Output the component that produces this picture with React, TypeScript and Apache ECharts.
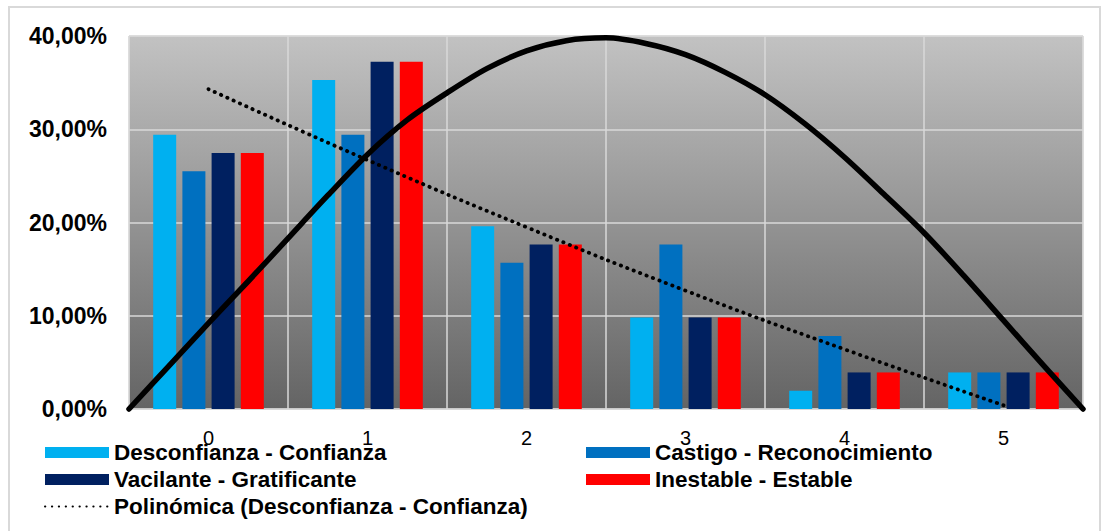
import React, { useEffect, useRef } from "react";
import * as echarts from "echarts";

const categories = ["0", "1", "2", "3", "4", "5"];
const desconfianza = [0.2941, 0.3529, 0.1961, 0.098, 0.0196, 0.0392];
const castigo = [0.2549, 0.2941, 0.1569, 0.1765, 0.0784, 0.0392];
const vacilante = [0.2745, 0.3725, 0.1765, 0.098, 0.0392, 0.0392];
const inestable = [0.2745, 0.3725, 0.1765, 0.098, 0.0392, 0.0392];
const trendValues = [0.343, 0.267, 0.195, 0.127, 0.064, 0.004];
const curveX = [
  -0.5, -0.25, 0, 0.25, 0.5, 0.75, 1, 1.25, 1.5, 1.75, 2, 2.25, 2.5,
  2.75, 3, 3.25, 3.5, 3.75, 4, 4.25, 4.5, 4.75, 5, 5.25, 5.5,
];
const curveY = [
  0, 0.046, 0.092, 0.137, 0.183, 0.229, 0.273, 0.31, 0.339, 0.365, 0.384, 0.395, 0.398,
  0.392, 0.38, 0.361, 0.337, 0.306, 0.27, 0.23, 0.189, 0.143, 0.095, 0.047, 0,
];
const yTicks = { min: 0, max: 0.4, interval: 0.1 };

const FONT = "'Liberation Sans', Arial, sans-serif";

export default function App() {
  const ref = useRef<HTMLDivElement>(null);
  useEffect(() => {
    if (!ref.current) return;
    const chart = echarts.init(ref.current, null, { renderer: "svg" });
    const barBase = {
      type: "bar",
      barWidth: 23,
      barGap: "27%",
      xAxisIndex: 0,
    };
    const legendText = { fontSize: 22.5, fontWeight: "bold", color: "#000", fontFamily: FONT };
    chart.setOption({
      animation: false,
      textStyle: { fontFamily: FONT },
      graphic: [
        {
          type: "rect",
          shape: { x: 9, y: 7, width: 1091, height: 530 },
          style: { fill: "none", stroke: "#d9d9d9", lineWidth: 2 },
          silent: true,
          z: -10,
        },
      ],
      grid: {
        left: 129,
        right: 25,
        top: 36,
        bottom: 122,
        show: true,
        borderColor: "#d9d9d9",
        borderWidth: 1,
        backgroundColor: new echarts.graphic.LinearGradient(0, 0, 0, 1, [
          { offset: 0, color: "#c2c2c2" },
          { offset: 1, color: "#646464" },
        ]),
      },
      legend: [
        {
          orient: "vertical",
          left: 39,
          top: 436,
          itemGap: 4,
          itemWidth: 64,
          itemHeight: 11,
          textStyle: legendText,
          data: [
            { name: "Desconfianza - Confianza", icon: "rect" },
            { name: "Vacilante - Gratificante", icon: "rect" },
            {
              name: "Polinómica (Desconfianza - Confianza)",
              itemStyle: { opacity: 0, color: "rgba(0,0,0,0)", borderColor: "rgba(0,0,0,0)", borderWidth: 0 },
            },
          ],
        },
        {
          orient: "vertical",
          left: 581,
          top: 436,
          itemGap: 4,
          itemWidth: 64,
          itemHeight: 11,
          textStyle: legendText,
          data: [
            { name: "Castigo - Reconocimiento", icon: "rect" },
            { name: "Inestable - Estable", icon: "rect" },
          ],
        },
      ],
      xAxis: [
        {
          type: "category",
          data: categories,
          boundaryGap: true,
          axisLine: { show: true, lineStyle: { color: "#d9d9d9", width: 1 } },
          axisTick: { show: false },
          axisLabel: { fontSize: 20, color: "#000", margin: 19, fontFamily: FONT },
          splitLine: { show: true, lineStyle: { color: "#d9d9d9", width: 1.5 } },
        },
        {
          type: "value",
          min: -0.5,
          max: 5.5,
          show: false,
        },
      ],
      yAxis: {
        type: "value",
        min: yTicks.min,
        max: yTicks.max,
        interval: yTicks.interval,
        axisLine: { show: false },
        axisTick: { show: false },
        axisLabel: {
          fontSize: 23,
          fontWeight: "bold",
          color: "#000",
          margin: 22,
          fontFamily: FONT,
          formatter: (v: number) => (v * 100).toFixed(2).replace(".", ",") + "%",
        },
        splitLine: { show: true, lineStyle: { color: "#d9d9d9", width: 1.5 } },
      },
      series: [
        { ...barBase, name: "Desconfianza - Confianza", data: desconfianza, itemStyle: { color: "#00B0F0" } },
        { ...barBase, name: "Castigo - Reconocimiento", data: castigo, itemStyle: { color: "#0070C0" } },
        { ...barBase, name: "Vacilante - Gratificante", data: vacilante, itemStyle: { color: "#002060" } },
        { ...barBase, name: "Inestable - Estable", data: inestable, itemStyle: { color: "#FF0000" } },
        {
          type: "line",
          name: "Polinómica (Desconfianza - Confianza)",
          data: trendValues,
          xAxisIndex: 0,
          smooth: true,
          symbol: "none",
          z: 5,
          lineStyle: { color: "#000", width: 3.8, type: [0.3, 6.6], cap: "round" },
          itemStyle: { color: "#000" },
        },
        {
          type: "line",
          name: "curve",
          data: curveX.map((x, i) => [x, curveY[i]]),
          xAxisIndex: 1,
          smooth: 0.3,
          symbol: "none",
          clip: false,
          z: 6,
          lineStyle: { color: "#000", width: 5.5, cap: "round", join: "round" },
        },
      ],
    });
    return () => chart.dispose();
  }, []);
  return (
    <div
      ref={ref}
      style={{ position: "absolute", left: 0, top: 0, width: 1108, height: 531, background: "#fff" }}
    />
  );
}
